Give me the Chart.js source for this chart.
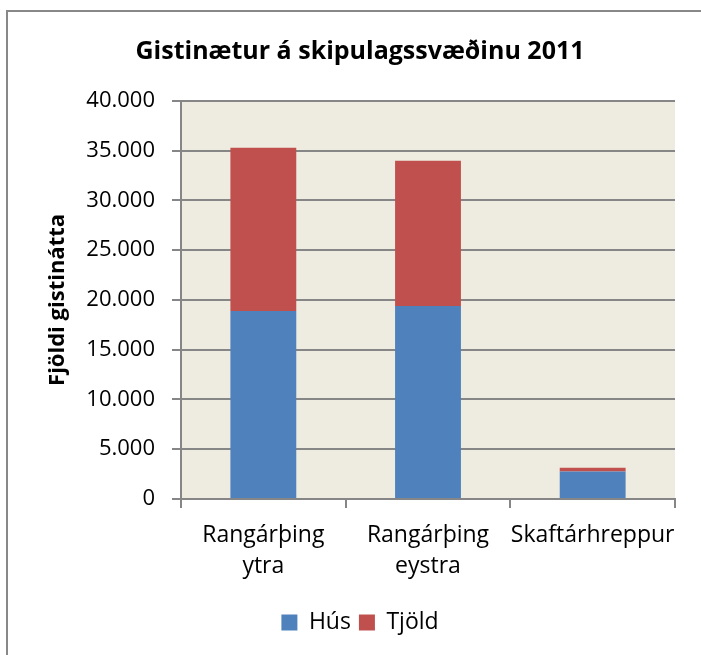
<!DOCTYPE html>
<html>
<head>
<meta charset="utf-8">
<script src="https://cdn.jsdelivr.net/npm/chart.js@4"></script>
<style>
  body { margin: 0; background: #fff; }
  #wrap { width: 701px; height: 655px; position: relative; }
</style>
</head>
<body>
<div id="wrap"><canvas id="theChart" width="701" height="655"></canvas></div>
<script>
// data
var categories = [['Rangárþing', 'ytra'], ['Rangárþing', 'eystra'], 'Skaftárhreppur'];
var husValues = [18900, 19400, 2750];
var tjoldValues = [16400, 14600, 380];
var seriesNames = ['Hús', 'Tjöld'];
var yTicks = [0, 5000, 10000, 15000, 20000, 25000, 30000, 35000, 40000];

var fontName = "'Open Sans', sans-serif";
var gridGrey = '#868686';

// beige plot area and the frame round the chart
var backdrop = {
  id: 'backdrop',
  beforeDraw: function(chart) {
    var ctx = chart.ctx, a = chart.chartArea;
    ctx.save();
    ctx.fillStyle = '#EEECE1';
    ctx.fillRect(a.left, a.top, a.right - a.left, a.bottom - a.top);
    ctx.strokeStyle = '#888888';
    ctx.lineWidth = 2;
    ctx.beginPath();
    ctx.moveTo(7, 660);
    ctx.lineTo(7, 11);
    ctx.lineTo(705, 11);
    ctx.stroke();
    ctx.restore();
  }
};

function fmt(v) {
  return v.toString().replace(/\B(?=(\d{3})+(?!\d))/g, '.');
}

var myChart = new Chart(document.getElementById('theChart').getContext('2d'), {
  type: 'bar',
  data: {
    labels: categories,
    datasets: [{
      label: seriesNames[0],
      data: husValues,
      backgroundColor: '#4F81BD'
    }, {
      label: seriesNames[1],
      data: tjoldValues,
      backgroundColor: '#C0504D'
    }]
  },
  options: {
    responsive: false,
    animation: false,
    layout: { padding: { left: 45, right: 26, top: 0, bottom: 11 } },
    datasets: { bar: { categoryPercentage: 1, barPercentage: 0.4 } },
    plugins: {
      title: {
        display: true,
        text: 'Gistinætur á skipulagssvæðinu 2011',
        color: '#000',
        font: { family: fontName, size: 25, weight: 'bold' },
        padding: { top: 37, bottom: 34 }
      },
      legend: {
        position: 'bottom',
        labels: {
          color: '#000',
          font: { family: fontName, size: 23 },
          boxWidth: 16,
          boxHeight: 16,
          padding: 8
        }
      },
      tooltip: { enabled: false }
    },
    scales: {
      x: {
        stacked: true,
        offset: true,
        afterFit: function(scale) { scale.height += 9; },
        border: { color: gridGrey, width: 2 },
        grid: { display: true, drawOnChartArea: false, drawTicks: true, tickLength: 9, offset: true, color: gridGrey, lineWidth: 2 },
        ticks: { color: '#000', font: { family: fontName, size: 23, lineHeight: 1.35 }, padding: 12, maxRotation: 0, autoSkip: false }
      },
      y: {
        stacked: true,
        min: 0,
        max: 40000,
        afterBuildTicks: function(scale) {
          scale.ticks = yTicks.map(function(v) { return { value: v }; });
        },
        afterFit: function(scale) { scale.width = 136; },
        border: { color: gridGrey, width: 2 },
        grid: { color: gridGrey, lineWidth: 2, tickLength: 9 },
        ticks: {
          color: '#000',
          font: { family: fontName, size: 22 },
          padding: 17,
          callback: function(v) { return fmt(v); }
        },
        title: {
          display: true,
          text: 'Fjöldi gistinátta',
          color: '#000',
          font: { family: fontName, size: 22, weight: 'bold' },
          padding: { top: 0, bottom: 0 }
        }
      }
    }
  },
  plugins: [backdrop]
});
</script>
</body>
</html>
